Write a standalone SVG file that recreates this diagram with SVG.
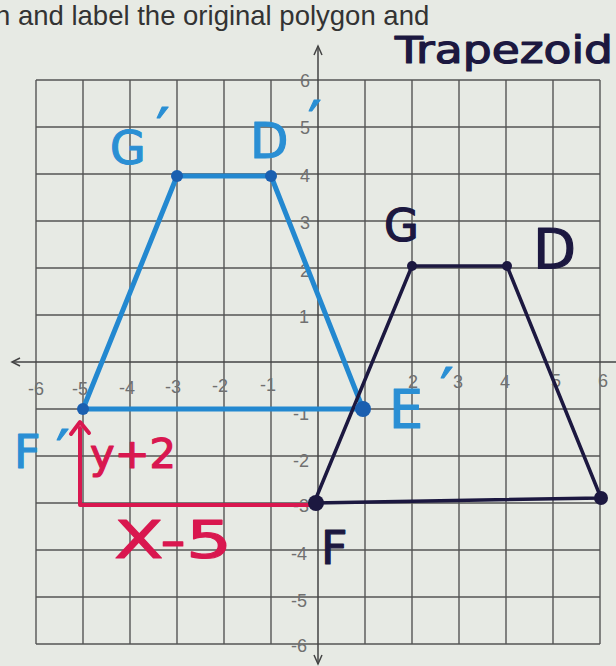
<svg xmlns="http://www.w3.org/2000/svg" width="616" height="666" viewBox="0 0 616 666">
<defs>
<style>
.bg{fill:#e7eae4}
.grid line{stroke:#555;stroke-width:1.4}
.axis{stroke:#444;stroke-width:1.5;fill:none}
.tick{font-family:"Liberation Sans",Arial,sans-serif;font-size:18px;fill:#707070}
.tx{text-anchor:middle}
.ty{text-anchor:end}
.hand{font-family:"DejaVu Sans","Liberation Sans",sans-serif;stroke-width:1.2;stroke-linejoin:round}
.blue{fill:#2a8fd4;stroke:#2a8fd4}
.navy{fill:#1c1840;stroke:#1c1840}
.red{fill:#d9174f;stroke:#d9174f}
.pr{font-size:60px}
.bl{stroke:#2388d0;stroke-width:5;fill:none;stroke-linecap:round;stroke-linejoin:round}
.bk{stroke:#1c1840;stroke-width:3.5;fill:none;stroke-linecap:round;stroke-linejoin:round}
.rd{stroke:#d9174f;stroke-width:4;fill:none;stroke-linecap:round;stroke-linejoin:round}
.bdot{fill:#1a5fb0}
.kdot{fill:#1c1840}
</style>
</defs>
<rect class="bg" x="0" y="0" width="616" height="666"/>
<text x="-5" y="25" font-family="'Liberation Sans',Arial,sans-serif" font-size="27.5" fill="#333">n and label the original polygon and</text>
<g class="grid" id="grid">
<line x1="36" y1="80" x2="36" y2="644"/><line x1="83" y1="80" x2="83" y2="644"/><line x1="130" y1="80" x2="130" y2="644"/><line x1="177" y1="80" x2="177" y2="644"/><line x1="224" y1="80" x2="224" y2="644"/><line x1="271" y1="80" x2="271" y2="644"/><line x1="365" y1="80" x2="365" y2="644"/><line x1="412" y1="80" x2="412" y2="644"/><line x1="459" y1="80" x2="459" y2="644"/><line x1="506" y1="80" x2="506" y2="644"/><line x1="553" y1="80" x2="553" y2="644"/><line x1="600" y1="80" x2="600" y2="644"/>
<line x1="36" y1="80" x2="600" y2="80"/><line x1="36" y1="127" x2="600" y2="127"/><line x1="36" y1="174" x2="600" y2="174"/><line x1="36" y1="221" x2="600" y2="221"/><line x1="36" y1="268" x2="600" y2="268"/><line x1="36" y1="315" x2="600" y2="315"/><line x1="36" y1="409" x2="600" y2="409"/><line x1="36" y1="456" x2="600" y2="456"/><line x1="36" y1="503" x2="600" y2="503"/><line x1="36" y1="550" x2="600" y2="550"/><line x1="36" y1="597" x2="600" y2="597"/><line x1="36" y1="644" x2="600" y2="644"/>
</g>
<g id="axes">
<path class="axis" d="M318 46 V664 M12 362 H616"/>
<path class="axis" d="M314 55 L318 46 L322 55 M314 655 L318 664 L322 655 M20 358 L12 362 L20 366"/>
</g>
<g id="ticks" class="tick">
<text class="tx" x="36" y="395">-6</text><text class="tx" x="80" y="395">-5</text><text class="tx" x="127" y="394">-4</text><text class="tx" x="173" y="393">-3</text><text class="tx" x="220" y="392">-2</text><text class="tx" x="268" y="391">-1</text>
<text class="tx" x="413" y="388">2</text><text class="tx" x="458" y="388">3</text><text class="tx" x="505" y="388">4</text><text class="tx" x="556" y="387">5</text><text class="tx" x="603" y="387">6</text>
<text class="ty" x="310" y="87">6</text><text class="ty" x="310" y="134">5</text><text class="ty" x="310" y="182">4</text><text class="ty" x="310" y="229">3</text><text class="ty" x="310" y="277">2</text><text class="ty" x="309" y="323">1</text>
<text class="ty" x="309" y="420">-1</text><text class="ty" x="309" y="467">-2</text><text class="ty" x="309" y="512">-3</text><text class="ty" x="307" y="560">-4</text><text class="ty" x="307" y="607">-5</text><text class="ty" x="307" y="652">-6</text>
</g>
<g id="connectors">
<path class="rd" d="M80 428 V505 H312"/>
<path class="rd" d="M71 434 L80 422 L89 433"/>
<path class="bl" d="M83 409 L177 176 H271 L363 409 Z"/>
<path class="bk" d="M314 503 L412 266 H507 L601 498 Z"/>
</g>
<g id="node-Fp"><circle class="bdot" cx="83" cy="409" r="6"/><text class="hand blue" x="14" y="468" font-size="46">F</text><text class="hand blue pr" x="56" y="473">′</text></g>
<g id="node-Gp"><circle class="bdot" cx="177" cy="176" r="6"/><text class="hand blue" x="110" y="164" font-size="46">G</text><text class="hand blue pr" x="156" y="151">′</text></g>
<g id="node-Dp"><circle class="bdot" cx="271" cy="176" r="6"/><text class="hand blue" x="250" y="158" font-size="50">D</text><text class="hand blue pr" x="308" y="144">′</text></g>
<g id="node-Ep"><circle class="bdot" cx="363" cy="409" r="8"/><text class="hand blue" x="389" y="428" font-size="54">E</text><text class="hand blue pr" x="440" y="411">′</text></g>
<g id="node-G"><circle class="kdot" cx="412" cy="266" r="5"/><text class="hand navy" x="384" y="241" font-size="45">G</text></g>
<g id="node-D"><circle class="kdot" cx="507" cy="266" r="5"/><text class="hand navy" x="533" y="268" font-size="56">D</text></g>
<g id="node-E"><circle class="kdot" cx="601" cy="498" r="7"/></g>
<g id="node-F"><circle class="kdot" cx="316" cy="503" r="8"/><text class="hand navy" x="321" y="564" font-size="46">F</text></g>
<text class="hand navy" x="395" y="63" font-size="37" stroke-width="0.6" textLength="218" lengthAdjust="spacingAndGlyphs">Trapezoid</text>
<text class="hand red" x="90" y="468" font-size="40" textLength="86" lengthAdjust="spacingAndGlyphs">y+2</text>
<text class="hand red" x="114" y="558" font-size="52" textLength="118" lengthAdjust="spacingAndGlyphs">X-5</text>
</svg>
